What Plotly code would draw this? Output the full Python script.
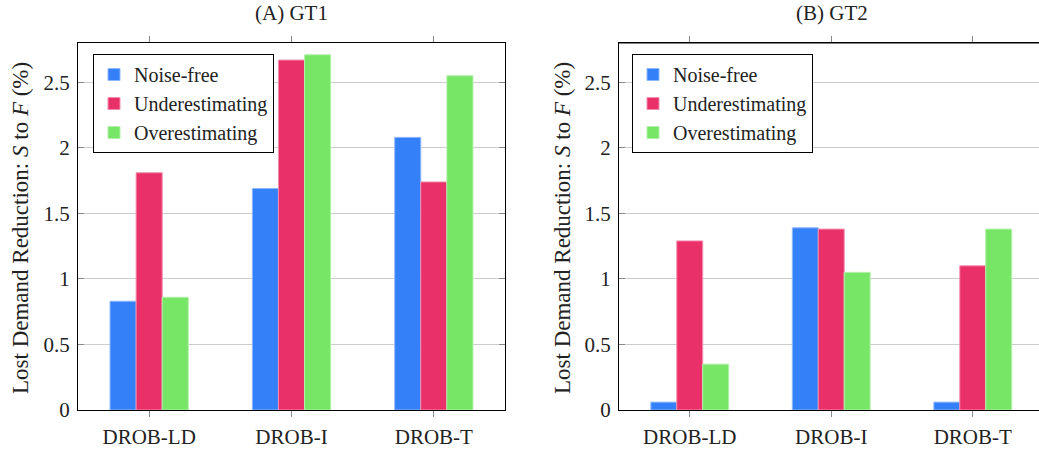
import plotly.graph_objects as go

# Methods on the x axis
methods = ["DROB-LD", "DROB-I", "DROB-T"]
series_names = ["Noise-free", "Underestimating", "Overestimating"]

# Lost demand reduction from S to F (%) for ground truth GT1
gt1_noise_free = [0.83, 1.69, 2.08]
gt1_under = [1.81, 2.67, 1.74]
gt1_over = [0.86, 2.71, 2.55]

# Lost demand reduction from S to F (%) for ground truth GT2
gt2_noise_free = [0.06, 1.39, 0.06]
gt2_under = [1.29, 1.38, 1.10]
gt2_over = [0.35, 1.05, 1.38]

y_tick_vals = [0, 0.5, 1, 1.5, 2, 2.5]
y_tick_text = ["0", "0.5", "1", "1.5", "2", "2.5"]

colors = ["#3380f8", "#e93068", "#77e565"]
edge_colors = ["#8fb8fb", "#f28fae", "#b3f0aa"]

FONT = "Liberation Serif, Times New Roman, serif"
FS = 21
W, H = 1039, 450

fig = go.Figure()

panels = [
    ("x", "y", "legend", [gt1_noise_free, gt1_under, gt1_over]),
    ("x2", "y2", "legend2", [gt2_noise_free, gt2_under, gt2_over]),
]
for xa, ya, lg, series in panels:
    for name, vals, c, ec in zip(series_names, series, colors, edge_colors):
        fig.add_trace(go.Bar(
            x=methods, y=vals, name=name, xaxis=xa, yaxis=ya, legend=lg,
            marker=dict(color=c, line=dict(color=ec, width=1)),
            hoverinfo="x+y+name",
        ))

y_dom = [(H - 410) / H, (H - 43) / H]
x1_dom = [78 / W, 505 / W]
x2_dom = [619 / W, 1.0]

tfont = dict(family=FONT, size=FS, color="#222222")

common_x = dict(
    type="category", showgrid=False, ticks="outside", ticklen=6, tickcolor="#888888",
    showline=True, linecolor="black", linewidth=1, mirror="ticks",
    tickfont=tfont, zeroline=False, automargin=False, ticklabelstandoff=2,
)
common_y = dict(
    range=[0, 2.80], tickvals=y_tick_vals, ticktext=y_tick_text,
    showgrid=True, gridcolor="#cccccc", gridwidth=1,
    ticks="inside", ticklen=6, tickcolor="#888888",
    showline=True, linecolor="black", linewidth=1,
    tickfont=tfont, zeroline=False, automargin=False,
    ticklabelstandoff=3,
)

legend_common = dict(
    y=1 - 54 / H, xanchor="left", yanchor="top",
    bgcolor="white", bordercolor="black", borderwidth=1,
    font=dict(family=FONT, size=20, color="#222222"),
    itemwidth=30, tracegroupgap=0,
)

fig.update_layout(
    width=W, height=H, margin=dict(l=0, r=0, t=0, b=0, autoexpand=False),
    paper_bgcolor="white", plot_bgcolor="white",
    barmode="group", bargap=0.45, bargroupgap=0,
    font=tfont,
    xaxis=dict(domain=x1_dom, range=[-0.5, 2.5], anchor="y", **common_x),
    yaxis=dict(domain=y_dom, anchor="x", mirror="ticks", **common_y),
    xaxis2=dict(domain=x2_dom, range=[-0.5, -0.5 + 420 / 141.5], anchor="y2", **common_x),
    yaxis2=dict(domain=y_dom, anchor="x2", mirror=False, **common_y),
    legend=dict(x=93 / W, **legend_common),
    legend2=dict(x=632 / W, **legend_common),
    showlegend=True,
)

# Top frame for the second panel (its right edge runs off the page)
fig.add_shape(type="line", xref="x2 domain", yref="y2 domain",
              x0=0, x1=1, y0=1, y1=1, line=dict(color="black", width=1))

# Panel titles
for label, xpix in (("(A) GT1", 291.5), ("(B) GT2", 832)):
    fig.add_annotation(text=label, xref="paper", yref="paper",
                       x=xpix / W, y=1 - 13 / H, showarrow=False,
                       xanchor="center", yanchor="middle", font=tfont)

# Y axis titles
y_title = "Lost Demand Reduction: <i>S</i> to <i>F</i> (%)"
for xpix in (20, 562):
    fig.add_annotation(text=y_title, xref="paper", yref="paper",
                       x=xpix / W, y=1 - 228 / H, showarrow=False, textangle=-90,
                       xanchor="center", yanchor="middle",
                       font=dict(family=FONT, size=23, color="#222222"))

fig.write_html("out.html")
